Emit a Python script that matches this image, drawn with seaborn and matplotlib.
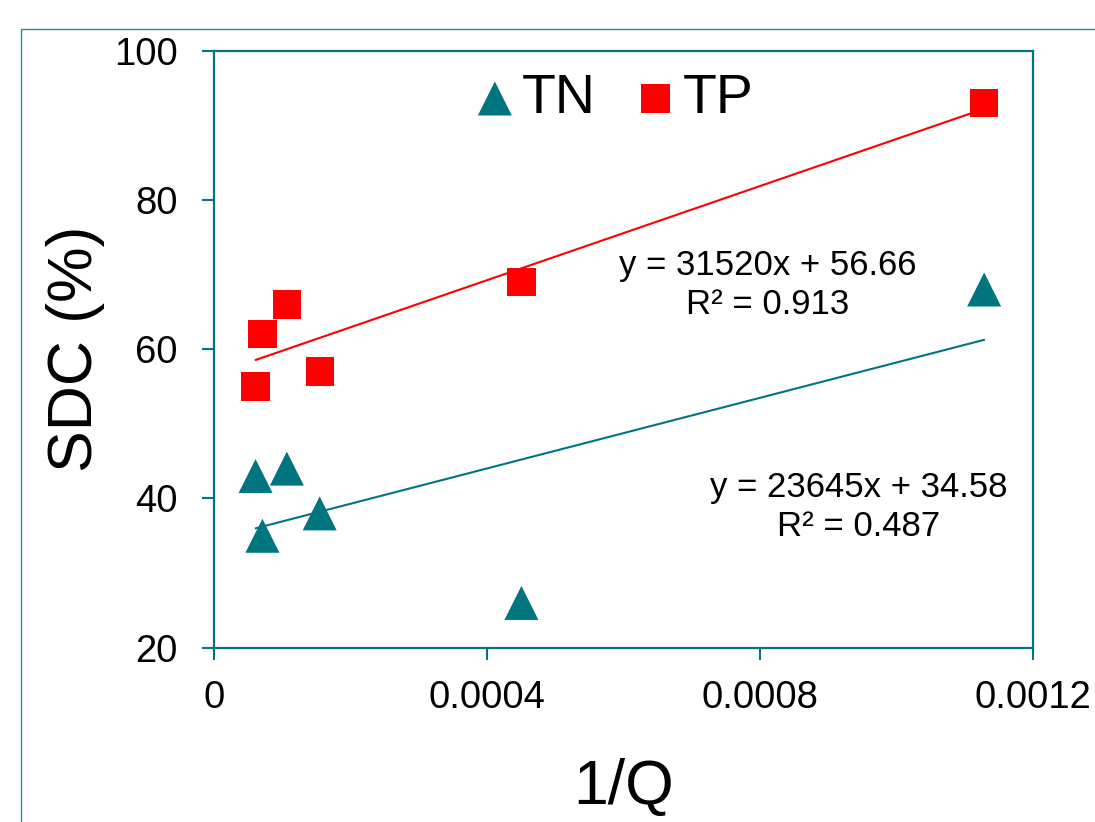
import matplotlib
matplotlib.use("Agg")
import matplotlib.pyplot as plt
import seaborn as sns
import pandas as pd
from matplotlib.patches import Rectangle

# ---- data ----
inv_q = [6.05e-5, 7.05e-5, 1.063e-4, 1.544e-4, 4.50e-4, 1.128e-3]
tn_sdc = [43, 35, 44, 38, 26, 68]
tp_sdc = [55, 62, 66, 57, 69, 93]
series_names = ["TN", "TP"]
x_ticks = [0, 0.0004, 0.0008, 0.0012]
x_tick_labels = ["0", "0.0004", "0.0008", "0.0012"]
y_ticks = [20, 40, 60, 80, 100]
eq_tp = ["y = 31520x + 56.66", "R² = 0.913"]
eq_tn = ["y = 23645x + 34.58", "R² = 0.487"]

TEAL = "#00747f"
RED = "#ff0000"
FRAME = "#2b8b95"

sns.set_theme(style="white")
plt.rcParams["font.family"] = ["Liberation Sans", "DejaVu Sans"]
plt.rcParams["text.color"] = "black"
plt.rcParams["axes.labelcolor"] = "black"

fig = plt.figure(figsize=(10.95, 8.22), dpi=100)
ax = fig.add_axes([214.3 / 1095, 1 - 647.7 / 822, 819 / 1095, 597 / 822])

# outer frame (partially cropped)
fig.patches.append(Rectangle((20.7 / 1095, -0.1), 2.0, (1 - 29 / 822) + 0.1,
                             transform=fig.transFigure, fill=False,
                             edgecolor=FRAME, linewidth=1.0, zorder=0))

df_tn = pd.DataFrame({"x": inv_q, "y": tn_sdc})
df_tp = pd.DataFrame({"x": inv_q, "y": tp_sdc})

sns.regplot(data=df_tn, x="x", y="y", ax=ax, scatter=False, ci=None,
            line_kws=dict(color=TEAL, lw=1.5, zorder=2))
sns.regplot(data=df_tp, x="x", y="y", ax=ax, scatter=False, ci=None,
            line_kws=dict(color=RED, lw=1.5, zorder=2))

sns.scatterplot(data=df_tn, x="x", y="y", ax=ax, marker="^", s=600,
                color=TEAL, edgecolor="none", label=series_names[0], zorder=3,
                legend=False)
sns.scatterplot(data=df_tp, x="x", y="y", ax=ax, marker="s", s=416,
                color=RED, edgecolor="none", label=series_names[1], zorder=3,
                legend=False)

ax.set_xlim(0, 0.0012)
ax.set_ylim(20, 100)
ax.set_xticks(x_ticks)
ax.set_xticklabels(x_tick_labels)
ax.set_yticks(y_ticks)
ax.tick_params(axis="both", direction="out", length=8.5, width=1.5,
               color=TEAL, labelsize=27.5, labelcolor="black",
               left=True, bottom=True)
ax.tick_params(axis="y", pad=18)
ax.tick_params(axis="x", pad=15)
for sp in ax.spines.values():
    sp.set_visible(True)
    sp.set_color(TEAL)
    sp.set_linewidth(1.6)

ax.set_xlabel("1/Q", fontsize=45, color="black")
ax.set_ylabel("SDC (%)", fontsize=45, color="black")
ax.xaxis.set_label_coords(0.5, -0.2618)
ax.xaxis.label.set_verticalalignment("baseline")
ax.yaxis.set_label_coords(-0.1695, 0.5)
ax.yaxis.label.set_verticalalignment("center")

# equations
eq_kw = dict(transform=ax.transAxes, ha="center", va="baseline", fontsize=25,
             color="black")
ax.text(0.6755, 0.6243, eq_tp[0], **eq_kw)
ax.text(0.6755, 0.5590, eq_tp[1], **eq_kw)
ax.text(0.7863, 0.2529, eq_tn[0], **eq_kw)
ax.text(0.7863, 0.1871, eq_tn[1], **eq_kw)

leg = ax.legend(loc="center", bbox_to_anchor=(0.4885, 0.919), ncol=2,
                frameon=False, fontsize=40, handlelength=0.7,
                handletextpad=0.14, columnspacing=0.72,
                borderpad=0, borderaxespad=0)
for t in leg.get_texts():
    t.set_color("black")

fig.savefig("out.png", dpi=100)
